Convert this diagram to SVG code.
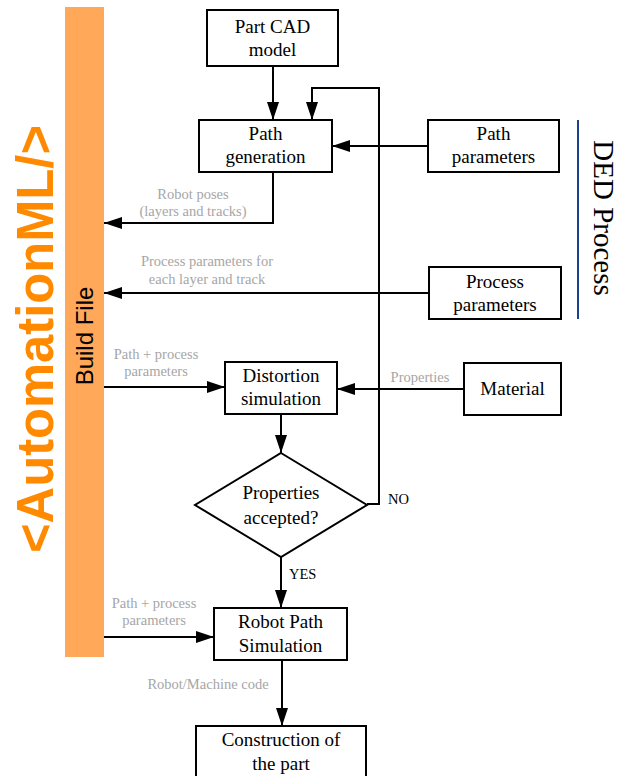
<svg xmlns="http://www.w3.org/2000/svg" width="628" height="776" viewBox="0 0 628 776">
<style>
.box{fill:#fff;stroke:#000;stroke-width:2}
.t{font-family:"Liberation Serif","Times New Roman",serif;font-size:19px;fill:#000;text-anchor:middle}
.lbl{font-family:"Liberation Serif","Times New Roman",serif;font-size:14.5px;fill:#a6a6a6;text-anchor:middle}
.yn{font-family:"Liberation Serif","Times New Roman",serif;font-size:14.5px;fill:#000}
.c{fill:none;stroke:#000;stroke-width:2}
</style>
<defs>
<marker id="ah" markerUnits="userSpaceOnUse" markerWidth="18" markerHeight="12" refX="18" refY="6" orient="auto">
<path d="M0,0 L18,6 L0,12 z" fill="#000"/>
</marker>
</defs>
<rect width="628" height="776" fill="#fff"/>
<g id="buildfile">
<rect x="65" y="7" width="39" height="650" fill="#FFA85A"/>
<text transform="translate(93,336) rotate(-90)" font-family="Liberation Sans, Arial, sans-serif" font-size="24" text-anchor="middle" fill="#000">Build File</text>
</g>
<g id="automationml">
<text transform="translate(53,339) rotate(-90)" font-family="Liberation Sans, Arial, sans-serif" font-size="52" font-weight="bold" text-anchor="middle" fill="#FF8A00" textLength="428" lengthAdjust="spacingAndGlyphs">&lt;AutomationML/&gt;</text>
</g>
<g id="ded">
<line x1="578" y1="120" x2="578" y2="319" stroke="#1F3F8F" stroke-width="2"/>
<text transform="translate(594,218) rotate(90)" class="t" font-size="29" style="font-size:29px">DED Process</text>
</g>
<g id="connectors">
<path class="c" d="M273,66 V120" marker-end="url(#ah)"/>
<path class="c" d="M367,504 H379 V88 H312 V120" marker-end="url(#ah)"/>
<path class="c" d="M428,146 H332" marker-end="url(#ah)"/>
<path class="c" d="M273,172 V223 H104" marker-end="url(#ah)"/>
<path class="c" d="M429,293 H104" marker-end="url(#ah)"/>
<path class="c" d="M104,387 H225" marker-end="url(#ah)"/>
<path class="c" d="M464,389 H337" marker-end="url(#ah)"/>
<path class="c" d="M281,414 V453" marker-end="url(#ah)"/>
<path class="c" d="M281,557 V608" marker-end="url(#ah)"/>
<path class="c" d="M104,637 H214" marker-end="url(#ah)"/>
<path class="c" d="M282,660 V726" marker-end="url(#ah)"/>
<text class="lbl" x="193" y="199">Robot poses</text>
<text class="lbl" x="193" y="216">(layers and tracks)</text>
<text class="lbl" x="207" y="266">Process parameters for</text>
<text class="lbl" x="207" y="284">each layer and track</text>
<text class="lbl" x="156" y="359">Path + process</text>
<text class="lbl" x="156" y="376">parameters</text>
<text class="lbl" x="420" y="382">Properties</text>
<text class="yn" x="388" y="504">NO</text>
<text class="yn" x="289" y="579">YES</text>
<text class="lbl" x="154" y="608">Path + process</text>
<text class="lbl" x="154" y="625">parameters</text>
<text class="lbl" x="208" y="689">Robot/Machine code</text>
</g>
<g id="partcad">
<rect class="box" x="207" y="10" width="131" height="56"/>
<text class="t" x="272.5" y="33">Part CAD</text>
<text class="t" x="272.5" y="56">model</text>
</g>
<g id="pathgen">
<rect class="box" x="199" y="120" width="133" height="52"/>
<text class="t" x="265.5" y="140">Path</text>
<text class="t" x="265.5" y="163">generation</text>
</g>
<g id="pathparams">
<rect class="box" x="428" y="120" width="131" height="52"/>
<text class="t" x="493.5" y="140">Path</text>
<text class="t" x="493.5" y="163">parameters</text>
</g>
<g id="procparams">
<rect class="box" x="429" y="267" width="132" height="52"/>
<text class="t" x="495" y="288">Process</text>
<text class="t" x="495" y="311">parameters</text>
</g>
<g id="distortion">
<rect class="box" x="225" y="362" width="112" height="52"/>
<text class="t" x="281" y="382">Distortion</text>
<text class="t" x="281" y="405">simulation</text>
</g>
<g id="material">
<rect class="box" x="464" y="363" width="97" height="52"/>
<text class="t" x="512.5" y="395">Material</text>
</g>
<g id="decision">
<polygon class="box" points="281,453 367,505 281,557 195,505"/>
<text class="t" x="281" y="499">Properties</text>
<text class="t" x="281" y="524">accepted?</text>
</g>
<g id="robotsim">
<rect class="box" x="214" y="608" width="133" height="52"/>
<text class="t" x="280.5" y="628">Robot Path</text>
<text class="t" x="280.5" y="652">Simulation</text>
</g>
<g id="construction">
<rect class="box" x="196" y="726" width="170" height="60"/>
<text class="t" x="281" y="746">Construction of</text>
<text class="t" x="281" y="770">the part</text>
</g>
</svg>
